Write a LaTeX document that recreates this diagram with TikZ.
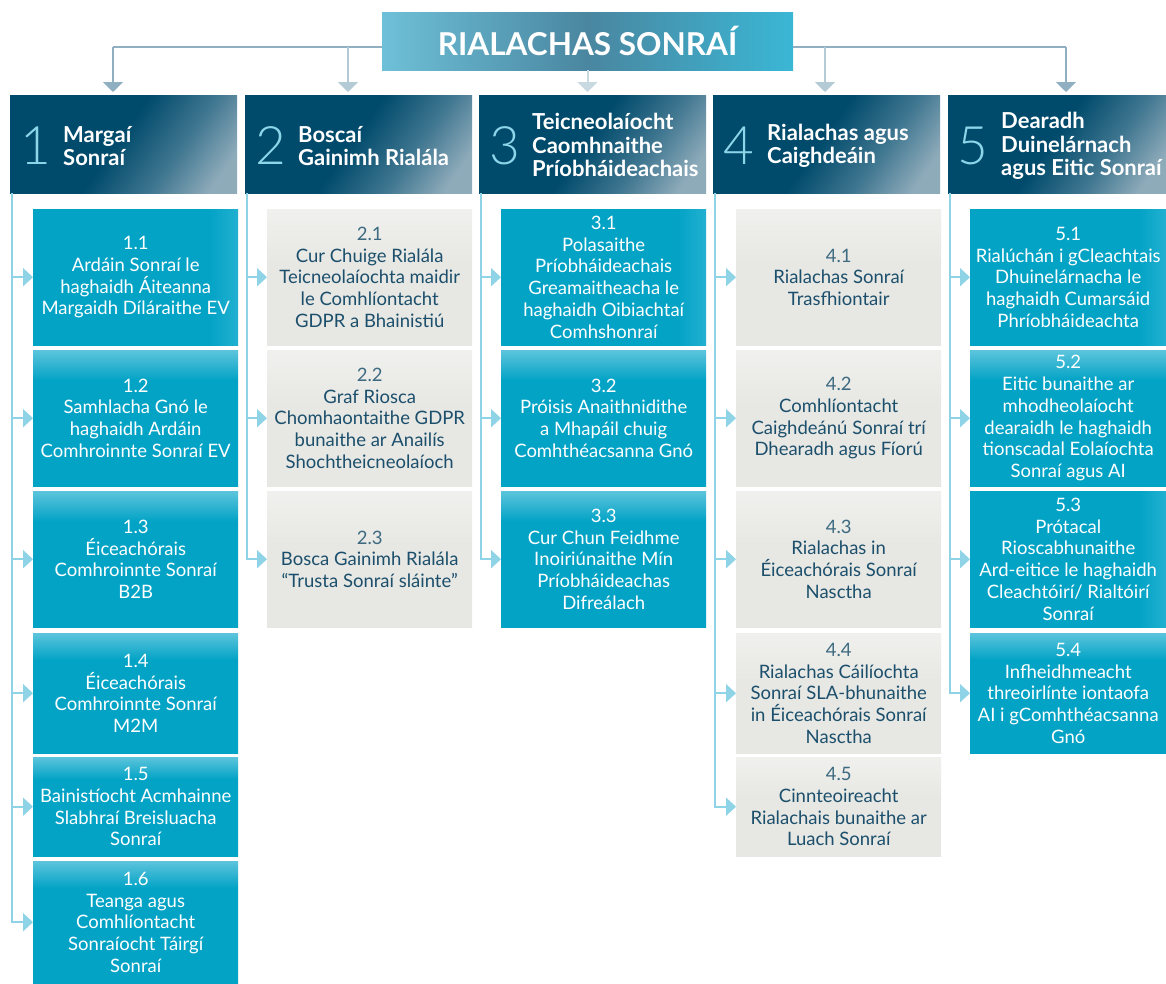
\documentclass[tikz,border=0pt]{standalone}
\usepackage{fontspec}
\setmainfont{Lato}
\newfontfamily\numfont{Lato Light}
\usetikzlibrary{arrows.meta}
\definecolor{hdark}{HTML}{004A6B}
\definecolor{hmid}{HTML}{3F7690}
\definecolor{hlight}{HTML}{8EABBA}
\definecolor{tealc}{HTML}{03A3C6}
\definecolor{tealr}{HTML}{22B0D0}
\definecolor{teallt}{HTML}{5CC4DC}
\definecolor{grayc}{HTML}{E7E7E3}
\definecolor{graylt}{HTML}{F0F0EE}
\definecolor{gtext}{HTML}{1B4F6C}
\definecolor{gnum}{HTML}{3D6A80}
\definecolor{brc}{HTML}{8ED3E6}
\definecolor{topA}{HTML}{90AFC0}
\definecolor{topB}{HTML}{B4CAD5}
\definecolor{topC}{HTML}{C8D9E1}
\definecolor{numc}{HTML}{8DD6EA}
\definecolor{tiA}{HTML}{6EC0D8}
\definecolor{tiB}{HTML}{4A86A0}
\definecolor{tiC}{HTML}{3AB7D5}
\pgfdeclarehorizontalshading{hdrshade}{100bp}{color(0bp)=(hdark); color(48bp)=(hdark); color(64bp)=(hmid); color(78bp)=(hlight); color(100bp)=(hlight)}
\pgfdeclarehorizontalshading{titleshade}{100bp}{color(0bp)=(tiA); color(25bp)=(tiA); color(50bp)=(tiB); color(75bp)=(tiC); color(100bp)=(tiC)}
\pgfdeclareverticalshading{tealtop}{100bp}{color(0bp)=(tealc); color(64bp)=(tealc); color(75bp)=(teallt); color(100bp)=(teallt)}
\pgfdeclarehorizontalshading{tealright}{100bp}{color(0bp)=(tealc); color(68bp)=(tealc); color(75bp)=(tealr); color(100bp)=(tealr)}
\pgfdeclareverticalshading{graytop}{100bp}{color(0bp)=(grayc); color(55bp)=(grayc); color(75bp)=(graylt); color(100bp)=(graylt)}
\tikzset{
  cbox/.style={inner sep=0pt, align=center, font=\fontsize{18.5}{21.7}\selectfont},
  tealA/.style={cbox, shading=tealright, text=white},
  tealB/.style={cbox, shading=tealtop, text=white},
  grayb/.style={cbox, shading=graytop, text=gtext},
  hdr/.style={shading=hdrshade, shading angle=-35, inner sep=0pt, minimum height=98, anchor=north west},
  hnum/.style={inner sep=0pt, anchor=base, text=numc, font=\numfont\fontsize{53}{53}\selectfont},
  htitle/.style={inner sep=0pt, anchor=west, align=left, text=white, font=\fontsize{22}{23.5}\selectfont\bfseries},
  topline/.style={line width=2pt, draw=topA},
  droparrow/.style={line width=2pt, shorten >=3pt, -{Triangle[width=20pt,length=10pt]}},
  branch/.style={line width=2pt, draw=brc, -{Triangle[width=18pt,length=10pt]}},
}
\newcommand\mkbox[7]{\node[#2, anchor=north west, minimum width={(#5)-(#3)}, minimum height={(#6)-(#4)}] (#1) at (#3,#4) {#7};}
\begin{document}
\begin{tikzpicture}[x=1pt,y=-1pt]
\useasboundingbox (0,0) rectangle (1166,983);
% title
\node[shading=titleshade, minimum width=411, minimum height=58, inner sep=0pt, text=white,
      font=\fontsize{31.5}{32}\selectfont\bfseries] (title) at (587.5,41) {RIALACHAS SONRAÍ};
% headers
\node[hdr, minimum width=227] (h1) at (10,95) {};
\node[hdr, minimum width=227] (h2) at (245,95) {};
\node[hdr, minimum width=227] (h3) at (479,95) {};
\node[hdr, minimum width=227] (h4) at (713,95) {};
\node[hdr, minimum width=218] (h5) at (948,95) {};
\node[hnum] (n1) at (35.5,164) {1};
\node[hnum] (n2) at (270.5,164) {2};
\node[hnum] (n3) at (504.5,164) {3};
\node[hnum] (n4) at (738.5,164) {4};
\node[hnum] (n5) at (973,164) {5};
\node[htitle] (t1) at (63,146) {Margaí\\Sonraí};
\node[htitle] (t2) at (298,146) {Boscaí\\Gainimh Rialála};
\node[htitle] (t3) at (532,145) {Teicneolaíocht\\Caomhnaithe\\Príobháideachais};
\node[htitle] (t4) at (767,146) {Rialachas agus\\Caighdeáin};
\node[htitle] (t5) at (1001,146) {Dearadh\\Duinelárnach\\agus Eitic Sonraí};
% top connectors
\coordinate (j1) at (113,47);
\coordinate (j2) at (348,47);
\coordinate (j4) at (825,47);
\coordinate (j5) at (1066,47);
\draw[topline] (j1) -- (j1 -| title.west);
\draw[topline] (j5) -- (j5 -| title.east);
\draw[droparrow, draw=topA, fill=topA] (j1) -- (j1 |- h1.north);
\draw[droparrow, draw=topB, fill=topB] (j2) -- (j2 |- h2.north);
\draw[droparrow, draw=topC, fill=topC] (title.south) -- (title.south |- h3.north);
\draw[droparrow, draw=topB, fill=topB] (j4) -- (j4 |- h4.north);
\draw[droparrow, draw=topA, fill=topA] (j5) -- (j5 |- h5.north);
% column 1
\mkbox{b11}{tealA}{33}{209}{238}{345}{1.1\\Ardáin Sonraí le\\haghaidh Áiteanna\\Margaidh Díláraithe EV}
\mkbox{b12}{tealB}{33}{350}{238}{486}{1.2\\Samhlacha Gnó le\\haghaidh Ardáin\\Comhroinnte Sonraí EV}
\mkbox{b13}{tealB}{33}{491}{238}{627}{1.3\\Éiceachórais\\Comhroinnte Sonraí\\B2B}
\mkbox{b14}{tealB}{33}{633}{238}{753}{1.4\\Éiceachórais\\Comhroinnte Sonraí\\M2M}
\mkbox{b15}{tealB}{33}{757}{238}{856}{1.5\\Bainistíocht Acmhainne\\Slabhraí Breisluacha\\Sonraí}
\mkbox{b16}{tealB}{33}{861}{238}{983}{1.6\\Teanga agus\\Comhlíontacht\\Sonraíocht Táirgí\\Sonraí}
% column 2
\mkbox{b21}{grayb}{267}{209}{472}{345}{{\color{gnum}2.1}\\Cur Chuige Rialála\\Teicneolaíochta maidir\\le Comhlíontacht\\GDPR a Bhainistiú}
\mkbox{b22}{grayb}{267}{350}{472}{486}{{\color{gnum}2.2}\\Graf Riosca\\Chomhaontaithe GDPR\\bunaithe ar Anailís\\Shochtheicneolaíoch}
\mkbox{b23}{grayb}{267}{491}{472}{627}{{\color{gnum}2.3}\\Bosca Gainimh Rialála\\“Trusta Sonraí sláinte”}
% column 3
\mkbox{b31}{tealA}{501}{209}{706}{345}{3.1\\Polasaithe\\Príobháideachais\\Greamaitheacha le\\haghaidh Oibiachtaí\\Comhshonraí}
\mkbox{b32}{tealB}{501}{350}{706}{486}{3.2\\Próisis Anaithnidithe\\a Mhapáil chuig\\Comhthéacsanna Gnó}
\mkbox{b33}{tealB}{501}{491}{706}{627}{3.3\\Cur Chun Feidhme\\Inoiriúnaithe Mín\\Príobháideachas\\Difreálach}
% column 4
\mkbox{b41}{grayb}{736}{209}{941}{345}{{\color{gnum}4.1}\\Rialachas Sonraí\\Trasfhiontair}
\mkbox{b42}{grayb}{736}{350}{941}{486}{{\color{gnum}4.2}\\Comhlíontacht\\Caighdeánú Sonraí trí\\Dhearadh agus Fíorú}
\mkbox{b43}{grayb}{736}{491}{941}{627}{{\color{gnum}4.3}\\Rialachas in\\Éiceachórais Sonraí\\Nasctha}
\mkbox{b44}{grayb}{736}{633}{941}{753}{{\color{gnum}4.4}\\Rialachas Cáilíochta\\Sonraí SLA-bhunaithe\\in Éiceachórais Sonraí\\Nasctha}
\mkbox{b45}{grayb}{736}{757}{941}{856}{{\color{gnum}4.5}\\Cinnteoireacht\\Rialachais bunaithe ar\\Luach Sonraí}
% column 5
\mkbox{b51}{tealA}{970}{209}{1166}{345}{5.1\\Rialúchán i gCleachtais\\Dhuinelárnacha le\\haghaidh Cumarsáid\\Phríobháideachta}
\mkbox{b52}{tealB}{970}{350}{1166}{486}{5.2\\Eitic bunaithe ar\\mhodheolaíocht\\dearaidh le haghaidh\\tionscadal Eolaíochta\\Sonraí agus AI}
\mkbox{b53}{tealA}{970}{491}{1166}{627}{5.3\\Prótacal\\Rioscabhunaithe\\Ard-eitice le haghaidh\\Cleachtóirí/ Rialtóirí\\Sonraí}
\mkbox{b54}{tealB}{970}{633}{1166}{753}{5.4\\Infheidhmeacht\\threoirlínte iontaofa\\AI i gComhthéacsanna\\Gnó}
% branches
\coordinate (v1) at ([xshift=2pt]h1.south west);
\coordinate (v2) at ([xshift=1.5pt]h2.south west);
\coordinate (v3) at ([xshift=1.5pt]h3.south west);
\coordinate (v4) at ([xshift=1.5pt]h4.south west);
\coordinate (v5) at ([xshift=1.5pt]h5.south west);
\foreach \b in {b11,b12,b13,b14,b15,b16} \draw[branch] (v1) |- (\b.west);
\foreach \b in {b21,b22,b23} \draw[branch] (v2) |- (\b.west);
\foreach \b in {b31,b32,b33} \draw[branch] (v3) |- (\b.west);
\foreach \b in {b41,b42,b43,b44,b45} \draw[branch] (v4) |- (\b.west);
\foreach \b in {b51,b52,b53,b54} \draw[branch] (v5) |- (\b.west);
\end{tikzpicture}
\end{document}
